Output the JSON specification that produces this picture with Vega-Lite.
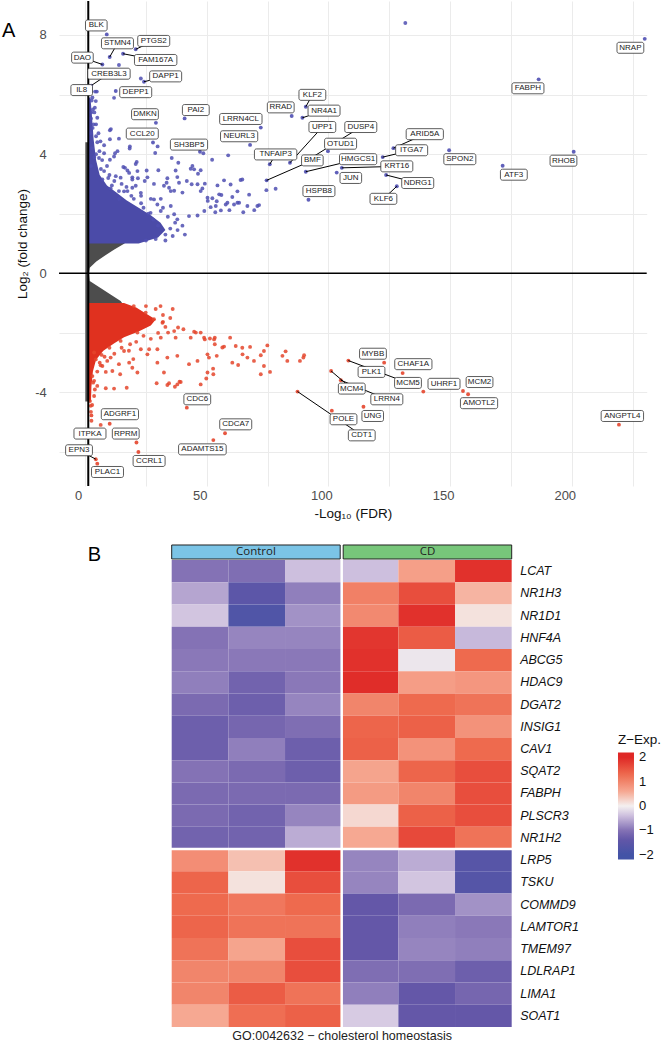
{
"$schema": "https://vega.github.io/schema/vega-lite/v6.json",
"background": "white",
"padding": {"left": 2, "top": 0, "right": 0, "bottom": 0},
"spacing": 23,
"config": {"view": {"stroke": null}, "font": "Liberation Sans", "axis": {"labelFont": "Liberation Sans", "titleFont": "Liberation Sans"}, "legend": {"labelFont": "Liberation Sans", "titleFont": "Liberation Sans"}},
"datasets": {
"gray": [
{"y": -4.3, "x0": 0.1, "x1": 1.6}, {"y": -1.07, "x0": 0.1, "x1": 1.6}, {"y": -1.03, "x0": 0.1, "x1": 15.5}, {"y": -0.93, "x0": 0.1, "x1": 14.6}, {"y": -0.7, "x0": 0.1, "x1": 10.3}, {"y": -0.5, "x0": 0.1, "x1": 6.5}, {"y": -0.26, "x0": 0.1, "x1": 1.9}, {"y": 0, "x0": 0.1, "x1": 1.6}, {"y": 0.19, "x0": 0.1, "x1": 1.9}, {"y": 0.4, "x0": 0.1, "x1": 4.6}, {"y": 0.6, "x0": 0.1, "x1": 8.2}, {"y": 0.8, "x0": 0.1, "x1": 12}, {"y": 1.0, "x0": 0.1, "x1": 16.2}, {"y": 1.04, "x0": 0.1, "x1": 16.5}, {"y": 1.08, "x0": 0.1, "x1": 1.6}, {"y": 4.4, "x0": 0.1, "x1": 1.6}
],
"bcore": [
{"y": 1.0, "x0": 1.3, "x1": 22}, {"y": 1.2, "x0": 1.3, "x1": 30}, {"y": 1.45, "x0": 1.3, "x1": 33}, {"y": 1.7, "x0": 1.3, "x1": 31}, {"y": 1.95, "x0": 1.3, "x1": 27}, {"y": 2.2, "x0": 1.3, "x1": 22}, {"y": 2.45, "x0": 1.3, "x1": 17}, {"y": 2.7, "x0": 1.3, "x1": 13}, {"y": 2.95, "x0": 1.3, "x1": 9}, {"y": 3.3, "x0": 1.3, "x1": 6}, {"y": 3.8, "x0": 1.3, "x1": 4.5}, {"y": 4.5, "x0": 1.3, "x1": 3.5}, {"y": 5.3, "x0": 1.3, "x1": 2.8}, {"y": 5.9, "x0": 1.3, "x1": 2.2}
],
"rcore": [
{"y": -4.3, "x0": 1.3, "x1": 2.4}, {"y": -3.8, "x0": 1.3, "x1": 2.6}, {"y": -3.3, "x0": 1.3, "x1": 3.2}, {"y": -2.9, "x0": 1.3, "x1": 4.5}, {"y": -2.6, "x0": 1.3, "x1": 7.5}, {"y": -2.35, "x0": 1.3, "x1": 12}, {"y": -2.15, "x0": 1.3, "x1": 16}, {"y": -1.95, "x0": 1.3, "x1": 22}, {"y": -1.75, "x0": 1.3, "x1": 27}, {"y": -1.55, "x0": 1.3, "x1": 29}, {"y": -1.35, "x0": 1.3, "x1": 25}, {"y": -1.15, "x0": 1.3, "x1": 21}, {"y": -1.0, "x0": 1.3, "x1": 16}
],
"pts": [
{"x":10.2,"y":4.8},{"x":13.9,"y":4.52},{"x":10.2,"y":4.5},{"x":29.8,"y":4.26},{"x":28.8,"y":4.04},{"x":18.3,"y":4.19},{"x":7.8,"y":4.3},{"x":5.0,"y":4.4},{"x":12.3,"y":4.03},{"x":11.9,"y":3.92},{"x":7.8,"y":4.03},{"x":5.7,"y":3.87},{"x":10.2,"y":3.81},{"x":35.6,"y":3.87},{"x":38.3,"y":3.71},{"x":48.6,"y":4.03},{"x":52.2,"y":3.81},{"x":58.8,"y":3.96},{"x":21.2,"y":3.74},{"x":16.4,"y":3.54},{"x":18.1,"y":3.37},{"x":21.5,"y":3.43},{"x":25.3,"y":3.45},{"x":30.1,"y":3.46},{"x":37.2,"y":3.45},{"x":44.8,"y":3.49},{"x":46.4,"y":3.34},{"x":7.8,"y":3.43},{"x":7.1,"y":3.15},{"x":12.6,"y":3.26},{"x":14.6,"y":3.21},{"x":19.4,"y":3.15},{"x":21.7,"y":3.19},{"x":24.5,"y":3.1},{"x":33.8,"y":3.19},{"x":33.5,"y":3.04},{"x":37.9,"y":3.23},{"x":38.6,"y":3.04},{"x":41.8,"y":3.1},{"x":43.8,"y":2.99},{"x":48.2,"y":2.85},{"x":47.5,"y":2.76},{"x":34.5,"y":2.87},{"x":35.2,"y":2.76},{"x":57.1,"y":3.12},{"x":64.6,"y":3.15},{"x":54.4,"y":2.95},{"x":55.1,"y":2.65},{"x":52.3,"y":2.52},{"x":60.5,"y":2.56},{"x":63.3,"y":2.37},{"x":66.7,"y":2.26},{"x":70.8,"y":2.26},{"x":57.8,"y":2.31},{"x":50.4,"y":2.43},{"x":49.0,"y":2.09},{"x":46.2,"y":1.94},{"x":42.7,"y":1.92},{"x":53.7,"y":2.26},{"x":10.5,"y":2.85},{"x":13.9,"y":2.76},{"x":17.4,"y":2.76},{"x":19.4,"y":2.87},{"x":22.9,"y":2.7},{"x":28.3,"y":2.48},{"x":29.7,"y":2.31},{"x":31.1,"y":2.5},{"x":26.9,"y":2.03},{"x":31.1,"y":2.09},{"x":35.2,"y":2.26},{"x":36.6,"y":1.98},{"x":37.9,"y":1.81},{"x":63.9,"y":3.13},{"x":59.8,"y":2.98},{"x":56.0,"y":2.63},{"x":67.4,"y":2.64},{"x":71.5,"y":2.29},{"x":62.6,"y":2.37},{"x":55.8,"y":2.11},{"x":51.6,"y":2.22},{"x":74.5,"y":2.79},{"x":78.3,"y":2.84},{"x":49.2,"y":3.01},{"x":4.4,"y":5.78},{"x":4.0,"y":5.56},{"x":5.0,"y":5.22},{"x":3.1,"y":4.88},{"x":6.3,"y":4.43},{"x":5.9,"y":4.1},{"x":10.6,"y":4.84},{"x":18.4,"y":4.26},{"x":13.3,"y":4.1},{"x":4.1,"y":6.1},{"x":44.1,"y":3.6},{"x":43.4,"y":3.51},{"x":47.5,"y":3.46},{"x":20.8,"y":3.67},{"x":17.4,"y":3.45},{"x":19.4,"y":3.22},{"x":20.8,"y":2.94},{"x":15.7,"y":3.57},{"x":25.6,"y":3.22},{"x":28.3,"y":3.0},{"x":32.4,"y":2.94},{"x":36.6,"y":2.77},{"x":40.0,"y":2.71},{"x":46.2,"y":2.99},{"x":50.3,"y":2.54},{"x":54.1,"y":2.42},{"x":58.5,"y":2.37},{"x":61.2,"y":2.31},{"x":62.6,"y":2.75},{"x":13.9,"y":6.99},{"x":11.9,"y":5.89},{"x":22.9,"y":6.54},{"x":131.6,"y":8.4},{"x":3.0,"y":5.9},{"x":2.5,"y":5.4},{"x":3.5,"y":5.0},{"x":2.2,"y":4.7},{"x":4.5,"y":4.6},{"x":2.8,"y":4.2},{"x":3.8,"y":3.9},{"x":2.4,"y":3.6},{"x":2.7,"y":5.8},{"x":3.2,"y":5.5},{"x":2.4,"y":5.2},{"x":53.5,"y":2.05},{"x":59.3,"y":2.12},{"x":65.0,"y":2.05},{"x":69.5,"y":2.12},
{"x":24,"y":2.2},{"x":26,"y":2.0},{"x":28,"y":1.8},{"x":30,"y":1.6},{"x":33,"y":1.3},{"x":35,"y":1.5},{"x":34,"y":1.9},{"x":32,"y":2.2},{"x":27,"y":2.5},{"x":23,"y":2.6},{"x":20,"y":2.5},{"x":17,"y":2.9},{"x":15,"y":3.0},{"x":12,"y":3.1},{"x":10,"y":3.3},{"x":9,"y":3.6},{"x":6.5,"y":3.5},{"x":7,"y":3.8},{"x":4.5,"y":4.0},{"x":5.5,"y":4.7},{"x":4.5,"y":5.0},{"x":3.8,"y":5.4},{"x":25,"y":1.1},{"x":29,"y":1.15},{"x":33,"y":1.1},{"x":36,"y":1.25},{"x":38,"y":1.45},{"x":37,"y":1.7},{"x":40,"y":1.6},{"x":41,"y":1.3},{"x":23,"y":2.35},{"x":19,"y":2.6},{"x":16,"y":2.75},{"x":14,"y":2.5},{"x":11,"y":2.95},{"x":9.5,"y":3.2},
{"x":24.9,"y":-1.32},{"x":28.3,"y":-1.54},{"x":32.0,"y":-1.63},{"x":38.2,"y":-1.82},{"x":40.4,"y":-1.88},{"x":34.1,"y":-1.99},{"x":31.1,"y":-2.16},{"x":37.2,"y":-2.16},{"x":43.4,"y":-2.16},{"x":45.5,"y":-1.99},{"x":47.5,"y":-1.99},{"x":48.9,"y":-2.16},{"x":51.3,"y":-2.19},{"x":53.3,"y":-2.16},{"x":53.3,"y":-2.38},{"x":59.6,"y":-2.16},{"x":57.1,"y":-2.46},{"x":61.9,"y":-2.44},{"x":64.6,"y":-2.5},{"x":67.8,"y":-2.47},{"x":74.9,"y":-2.42},{"x":73.5,"y":-2.61},{"x":82.4,"y":-2.62},{"x":81.1,"y":-2.77},{"x":83.1,"y":-2.94},{"x":88.3,"y":-2.94},{"x":90.0,"y":-2.75},{"x":72.2,"y":-2.75},{"x":69.4,"y":-2.94},{"x":66.7,"y":-2.83},{"x":60.5,"y":-3.0},{"x":62.9,"y":-3.08},{"x":73.5,"y":-3.11},{"x":76.0,"y":-3.31},{"x":72.2,"y":-3.39},{"x":54.1,"y":-2.77},{"x":50.3,"y":-2.72},{"x":46.2,"y":-2.94},{"x":42.7,"y":-3.05},{"x":37.9,"y":-2.77},{"x":33.8,"y":-2.83},{"x":29.7,"y":-3.0},{"x":25.6,"y":-2.72},{"x":29.7,"y":-2.55},{"x":26.3,"y":-2.55},{"x":22.9,"y":-2.55},{"x":19.8,"y":-2.88},{"x":18.1,"y":-3.0},{"x":13.9,"y":-3.05},{"x":9.1,"y":-2.94},{"x":7.1,"y":-3.11},{"x":8.5,"y":-3.31},{"x":11.2,"y":-3.28},{"x":14.4,"y":-3.39},{"x":19.4,"y":-3.17},{"x":21.5,"y":-3.33},{"x":32.4,"y":-3.33},{"x":50.3,"y":-3.33},{"x":52.7,"y":-3.39},{"x":49.8,"y":-3.53},{"x":47.5,"y":-3.73},{"x":37.9,"y":-3.73},{"x":36.9,"y":-3.81},{"x":38.8,"y":-3.64},{"x":34.5,"y":-3.69},{"x":29.4,"y":-3.69},{"x":17.1,"y":-3.84},{"x":11.9,"y":-3.87},{"x":8.5,"y":-3.86},{"x":3.7,"y":-3.61},{"x":5.0,"y":-3.78},{"x":3.7,"y":-4.12},{"x":3.0,"y":-3.45},{"x":6.4,"y":-3.09},{"x":4.4,"y":-2.89},{"x":3.7,"y":-2.66},{"x":6.8,"y":-2.74},{"x":10.5,"y":-2.83},{"x":16.0,"y":-2.61},{"x":18.5,"y":-2.38},{"x":14.6,"y":-2.27},{"x":21.5,"y":-1.99},{"x":2.3,"y":-4.45},{"x":33.8,"y":-3.75},{"x":39.3,"y":-3.65},{"x":3.3,"y":-3.67},{"x":2.0,"y":-4.29},{"x":2.9,"y":-4.42},{"x":89.7,"y":-2.83},{"x":64.7,"y":-2.72},{"x":52.6,"y":-3.2},{"x":50.9,"y":-2.83},{"x":56.4,"y":-2.49},{"x":53.0,"y":-2.22},{"x":49.2,"y":-2.22},{"x":44.8,"y":-1.96},{"x":36.6,"y":-1.94},{"x":31.8,"y":-1.66},{"x":2.4,"y":-4.65},{"x":2.6,"y":-4.95},{"x":6.4,"y":-5.09},
{"x":25,"y":-1.1},{"x":29,"y":-1.2},{"x":32,"y":-1.4},{"x":33,"y":-1.8},{"x":30,"y":-2.0},{"x":27,"y":-2.2},{"x":24,"y":-2.1},{"x":21,"y":-2.3},{"x":18,"y":-2.6},{"x":15,"y":-2.5},{"x":12,"y":-2.7},{"x":10,"y":-2.5},{"x":8,"y":-2.8},{"x":6,"y":-3.0},{"x":5,"y":-3.3},{"x":4,"y":-3.9},{"x":35,"y":-1.5},{"x":36,"y":-1.2},{"x":20,"y":-1.1},{"x":31,"y":-1.1}
],
"lab": [
{"gene":"BLK","x":8.9,"y":8.02,"lx":4.6,"ly":8.32,"line":false},
{"gene":"STMN4","x":10.1,"y":7.26,"lx":13.3,"ly":7.72,"line":true},
{"gene":"PTGS2","x":20.8,"y":7.52,"lx":28.2,"ly":7.8,"line":true},
{"gene":"FAM167A","x":15.6,"y":7.37,"lx":29.0,"ly":7.16,"line":true},
{"gene":"DAO","x":7.1,"y":7.01,"lx":-1.1,"ly":7.24,"line":true},
{"gene":"CREB3L3","x":2.5,"y":6.3,"lx":9.8,"ly":6.7,"line":true},
{"gene":"IL8","x":4.8,"y":6.1,"lx":-1.4,"ly":6.15,"line":false},
{"gene":"DAPP1","x":24.2,"y":6.43,"lx":33.1,"ly":6.61,"line":true},
{"gene":"DEPP1","x":12.6,"y":6.12,"lx":20.8,"ly":6.08,"line":false},
{"gene":"DMKN","x":29.1,"y":5.05,"lx":24.6,"ly":5.34,"line":false},
{"gene":"PAI2","x":40.9,"y":5.2,"lx":45.5,"ly":5.48,"line":false},
{"gene":"LRRN4CL","x":72.2,"y":4.89,"lx":64.0,"ly":5.18,"line":false},
{"gene":"NEURL3","x":67.8,"y":4.31,"lx":63.3,"ly":4.6,"line":false},
{"gene":"CCL20","x":27.9,"y":4.39,"lx":23.5,"ly":4.69,"line":false},
{"gene":"SH3BP5","x":47.2,"y":4.08,"lx":42.7,"ly":4.32,"line":false},
{"gene":"RRAD","x":84.9,"y":5.28,"lx":80.4,"ly":5.57,"line":false},
{"gene":"KLF2","x":90.7,"y":5.59,"lx":93.4,"ly":5.99,"line":true},
{"gene":"NR4A1","x":89.3,"y":5.22,"lx":98.2,"ly":5.46,"line":true},
{"gene":"UPP1","x":84.2,"y":3.71,"lx":97.5,"ly":4.91,"line":true},
{"gene":"DUSP4","x":90.7,"y":3.76,"lx":113.3,"ly":4.91,"line":true},
{"gene":"TNFAIP3","x":75.9,"y":3.66,"lx":78.3,"ly":3.99,"line":true},
{"gene":"BMF","x":74.6,"y":3.12,"lx":93.4,"ly":3.79,"line":true},
{"gene":"OTUD1","x":99.8,"y":4.1,"lx":105.0,"ly":4.35,"line":false},
{"gene":"HMGCS1","x":90.7,"y":3.41,"lx":112.2,"ly":3.83,"line":true},
{"gene":"JUN","x":103.4,"y":3.38,"lx":109.2,"ly":3.2,"line":false},
{"gene":"KRT16","x":105.5,"y":3.54,"lx":128.1,"ly":3.59,"line":true},
{"gene":"HSPB8","x":91.8,"y":2.47,"lx":96.1,"ly":2.76,"line":false},
{"gene":"ARID5A","x":126.7,"y":4.2,"lx":139.6,"ly":4.67,"line":true},
{"gene":"ITGA7","x":122.3,"y":3.9,"lx":134.2,"ly":4.13,"line":true},
{"gene":"NDRG1","x":123.7,"y":3.3,"lx":136.7,"ly":3.03,"line":true},
{"gene":"KLF6","x":128.1,"y":2.92,"lx":122.6,"ly":2.5,"line":true},
{"gene":"SPON2","x":149.6,"y":4.13,"lx":154.0,"ly":3.83,"line":false},
{"gene":"ATF3","x":171.6,"y":3.61,"lx":176.2,"ly":3.31,"line":false},
{"gene":"RHOB","x":200.8,"y":4.08,"lx":196.6,"ly":3.78,"line":false},
{"gene":"FABPH","x":186.4,"y":6.51,"lx":182.0,"ly":6.21,"line":false},
{"gene":"NRAP","x":230.0,"y":7.87,"lx":224.1,"ly":7.57,"line":false},
{"gene":"MYBB","x":122.9,"y":-3.0,"lx":118.3,"ly":-2.7,"line":false},
{"gene":"PLK1","x":115.5,"y":-3.25,"lx":117.7,"ly":-3.31,"line":false},
{"gene":"CHAF1A","x":130.5,"y":-3.35,"lx":134.9,"ly":-3.05,"line":false},
{"gene":"MCM5","x":108.2,"y":-2.93,"lx":132.7,"ly":-3.68,"line":true},
{"gene":"MCM4","x":101.1,"y":-3.28,"lx":109.6,"ly":-3.87,"line":true},
{"gene":"LRRN4","x":105.1,"y":-3.59,"lx":124.0,"ly":-4.23,"line":true},
{"gene":"UHRF1","x":139.0,"y":-3.97,"lx":147.5,"ly":-3.71,"line":false},
{"gene":"MCM2","x":155.3,"y":-3.95,"lx":162.1,"ly":-3.65,"line":false},
{"gene":"AMOTL2","x":157.4,"y":-4.06,"lx":161.9,"ly":-4.36,"line":false},
{"gene":"UNG","x":114.4,"y":-4.48,"lx":118.2,"ly":-4.79,"line":false},
{"gene":"POLE","x":101.4,"y":-4.61,"lx":106.2,"ly":-4.9,"line":false},
{"gene":"CDT1","x":87.3,"y":-3.97,"lx":113.7,"ly":-5.44,"line":true},
{"gene":"ANGPTL4","x":219.4,"y":-5.08,"lx":220.8,"ly":-4.79,"line":false},
{"gene":"CDC6","x":41.8,"y":-4.51,"lx":46.1,"ly":-4.23,"line":false},
{"gene":"ADGRF1","x":10.1,"y":-5.05,"lx":14.3,"ly":-4.73,"line":false},
{"gene":"ITPKA","x":2.6,"y":-4.77,"lx":2.0,"ly":-5.38,"line":false},
{"gene":"RPRM","x":21.1,"y":-5.68,"lx":16.7,"ly":-5.38,"line":false},
{"gene":"EPN3","x":4.4,"y":-6.24,"lx":-2.5,"ly":-5.94,"line":true},
{"gene":"PLAC1","x":5.0,"y":-6.39,"lx":9.2,"ly":-6.67,"line":false},
{"gene":"CCRL1","x":21.9,"y":-6.0,"lx":26.3,"ly":-6.3,"line":false},
{"gene":"CDCA7","x":57.5,"y":-5.37,"lx":61.9,"ly":-5.07,"line":false},
{"gene":"ADAMTS15","x":52.7,"y":-5.6,"lx":48.2,"ly":-5.91,"line":false}
],
"hm": [
{"gene":"LCAT","Control 1":-1.0,"Control 2":-1.05,"Control 3":-0.4,"CD 1":-0.4,"CD 2":0.7,"CD 3":1.9},
{"gene":"NR1H3","Control 1":-0.6,"Control 2":-1.5,"Control 3":-0.9,"CD 1":1.05,"CD 2":1.6,"CD 3":0.5},
{"gene":"NR1D1","Control 1":-0.35,"Control 2":-1.75,"Control 3":-0.75,"CD 1":0.95,"CD 2":1.9,"CD 3":0.12},
{"gene":"HNF4A","Control 1":-1.0,"Control 2":-0.85,"Control 3":-0.85,"CD 1":1.85,"CD 2":1.45,"CD 3":-0.45},
{"gene":"ABCG5","Control 1":-0.95,"Control 2":-0.95,"Control 3":-0.95,"CD 1":1.9,"CD 2":-0.08,"CD 3":1.3},
{"gene":"HDAC9","Control 1":-0.9,"Control 2":-1.2,"Control 3":-0.95,"CD 1":1.95,"CD 2":0.72,"CD 3":0.8},
{"gene":"DGAT2","Control 1":-1.1,"Control 2":-1.25,"Control 3":-0.85,"CD 1":1.0,"CD 2":1.3,"CD 3":1.2},
{"gene":"INSIG1","Control 1":-1.25,"Control 2":-1.15,"Control 3":-1.05,"CD 1":1.35,"CD 2":1.4,"CD 3":0.85},
{"gene":"CAV1","Control 1":-1.25,"Control 2":-0.9,"Control 3":-1.25,"CD 1":1.4,"CD 2":0.85,"CD 3":1.3},
{"gene":"SQAT2","Control 1":-1.0,"Control 2":-1.1,"Control 3":-1.25,"CD 1":0.65,"CD 2":1.35,"CD 3":1.6},
{"gene":"FABPH","Control 1":-1.1,"Control 2":-1.1,"Control 3":-1.1,"CD 1":0.75,"CD 2":1.0,"CD 3":1.6},
{"gene":"PLSCR3","Control 1":-1.1,"Control 2":-1.2,"Control 3":-0.85,"CD 1":0.2,"CD 2":1.4,"CD 3":1.6},
{"gene":"NR1H2","Control 1":-1.2,"Control 2":-1.2,"Control 3":-0.55,"CD 1":0.6,"CD 2":1.65,"CD 3":1.2},
{"gene":"LRP5","Control 1":0.9,"Control 2":0.4,"Control 3":1.9,"CD 1":-0.85,"CD 2":-0.55,"CD 3":-1.6},
{"gene":"TSKU","Control 1":1.35,"Control 2":0.12,"Control 3":1.6,"CD 1":-0.85,"CD 2":-0.35,"CD 3":-1.65},
{"gene":"COMMD9","Control 1":1.3,"Control 2":1.15,"Control 3":1.3,"CD 1":-1.35,"CD 2":-1.1,"CD 3":-0.75},
{"gene":"LAMTOR1","Control 1":1.35,"Control 2":1.2,"Control 3":1.2,"CD 1":-1.35,"CD 2":-0.9,"CD 3":-0.95},
{"gene":"TMEM97","Control 1":1.2,"Control 2":0.65,"Control 3":1.6,"CD 1":-1.35,"CD 2":-0.85,"CD 3":-0.9},
{"gene":"LDLRAP1","Control 1":1.0,"Control 2":1.0,"Control 3":1.6,"CD 1":-1.05,"CD 2":-1.05,"CD 3":-1.25},
{"gene":"LIMA1","Control 1":1.0,"Control 2":1.45,"Control 3":1.2,"CD 1":-0.9,"CD 2":-1.35,"CD 3":-1.15},
{"gene":"SOAT1","Control 1":0.6,"Control 2":1.25,"Control 3":1.4,"CD 1":-0.3,"CD 2":-1.35,"CD 3":-1.35}
]
},
"vconcat": [
{
"width": 587.7, "height": 485,
"title": {"text": "A", "anchor": "start", "frame": "group", "fontSize": 20, "fontWeight": "normal", "font": "Liberation Sans", "color": "#000", "offset": 0, "baseline": "alphabetic", "dx": -57, "dy": 57},
"layer": [
{"data": {"name": "gray"}, "mark": {"type": "area", "orient": "horizontal", "color": "#4d4d4d"},
 "encoding": {
  "y": {"field": "y", "type": "quantitative", "scale": {"domain": [-7.14, 9.14], "nice": false, "zero": false},
        "axis": {"values": [-6,-4,-2,0,2,4,6,8], "labelExpr": "datum.value % 4 === 0 ? replace(datum.label, '−', '-') : ''", "grid": true, "gridColor": "#ebebeb", "gridWidth": 1, "domain": false, "ticks": false, "labelFontSize": 13, "labelColor": "#4d4d4d", "labelPadding": 12.8, "labelOverlap": false, "labelFlush": false, "titleFontSize": 13.5, "titleFontWeight": "normal", "titleColor": "#111", "titlePadding": 5.5},
        "title": "Log₂ (fold change)"},
  "x": {"field": "x0", "type": "quantitative", "scale": {"domain": [-10.73, 230.8], "nice": false, "zero": false},
        "axis": {"values": [0,25,50,75,100,125,150,175,200,225], "labelExpr": "datum.value % 50 === 0 ? datum.label : ''", "grid": true, "gridColor": "#ebebeb", "gridWidth": 1, "domain": false, "ticks": false, "labelFontSize": 13, "labelColor": "#4d4d4d", "labelPadding": 3, "labelOffset": -7, "labelOverlap": false, "labelFlush": false, "titleFontSize": 13.5, "titleFontWeight": "normal", "titleColor": "#111", "titlePadding": 4},
        "title": "-Log₁₀ (FDR)"},
  "x2": {"field": "x1"}
 }},
{"data": {"name": "bcore"}, "mark": {"type": "area", "orient": "horizontal", "color": "#4b4ba8"},
 "encoding": {"y": {"field": "y", "type": "quantitative"}, "x": {"field": "x0", "type": "quantitative"}, "x2": {"field": "x1"}}},
{"data": {"name": "rcore"}, "mark": {"type": "area", "orient": "horizontal", "color": "#e0311f"},
 "encoding": {"y": {"field": "y", "type": "quantitative"}, "x": {"field": "x0", "type": "quantitative"}, "x2": {"field": "x1"}}},
{"data": {"name": "pts"}, "mark": {"type": "circle", "size": 15, "opacity": 0.85},
 "encoding": {"x": {"field": "x", "type": "quantitative"}, "y": {"field": "y", "type": "quantitative"},
  "color": {"condition": {"test": "datum.y > 0", "value": "#4f4fb2"}, "value": "#e4452c"}}},
{"data": {"name": "lab"}, "mark": {"type": "circle", "size": 15, "opacity": 0.9},
 "encoding": {"x": {"field": "x", "type": "quantitative"}, "y": {"field": "y", "type": "quantitative"},
  "color": {"condition": {"test": "datum.y > 0", "value": "#4f4fb2"}, "value": "#e4452c"}}},
{"data": {"values": [{"v": 0}]}, "mark": {"type": "rule", "color": "#000", "strokeWidth": 1.4}, "encoding": {"y": {"field": "v", "type": "quantitative"}}},
{"data": {"values": [{"v": 1.3}]}, "mark": {"type": "rule", "color": "#000", "strokeWidth": 2}, "encoding": {"x": {"field": "v", "type": "quantitative"}}},
{"data": {"name": "lab"}, "transform": [{"filter": "datum.line"}], "mark": {"type": "rule", "color": "#000", "strokeWidth": 1},
 "encoding": {"x": {"field": "x", "type": "quantitative"}, "y": {"field": "y", "type": "quantitative"}, "x2": {"field": "lx"}, "y2": {"field": "ly"}}},
{"data": {"name": "lab"}, "mark": {"type": "rect", "fill": "white", "stroke": "#333", "strokeWidth": 0.8, "cornerRadius": 2, "xOffset": {"expr": "-length(datum.gene)*2.6-3"}, "x2Offset": {"expr": "length(datum.gene)*2.6+3"}, "yOffset": -5.5, "y2Offset": 5.5},
 "encoding": {"x": {"field": "lx", "type": "quantitative"}, "x2": {"field": "lx"}, "y": {"field": "ly", "type": "quantitative"}, "y2": {"field": "ly"}}},
{"data": {"name": "lab"}, "mark": {"type": "text", "fontSize": 8, "font": "Liberation Sans", "color": "#1a1a1a", "align": "center", "baseline": "middle"},
 "encoding": {"x": {"field": "lx", "type": "quantitative"}, "y": {"field": "ly", "type": "quantitative"}, "text": {"field": "gene"}}}
]
},
{
"width": 587.7, "height": 484,
"title": {"text": "B", "anchor": "start", "frame": "group", "fontSize": 20, "fontWeight": "normal", "font": "Liberation Sans", "color": "#000", "offset": 0, "baseline": "alphabetic", "dx": 28.7, "dy": 37},
"layer": [
{"layer": [
 {"data": {"name": "hm"}, "transform": [{"fold": ["Control 1","Control 2","Control 3","CD 1","CD 2","CD 3"], "as": ["sample","z"]}],
  "mark": {"type": "rect"},
  "encoding": {
   "x": {"field": "sample", "type": "nominal", "sort": null, "scale": {"domain": ["Control 1","Control 2","Control 3","CD 1","CD 2","CD 3"], "range": [112.7, 452.7], "paddingInner": 0, "paddingOuter": 0},
         "axis": {"labels": false, "ticks": false, "domain": false, "title": "GO:0042632 − cholesterol homeostasis", "titleFontSize": 12.5, "titleFontWeight": "normal", "titleColor": "#222", "titlePadding": 1}},
   "y": {"field": "gene", "type": "nominal", "sort": null, "scale": {"domain": ["LCAT","NR1H3","NR1D1","HNF4A","ABCG5","HDAC9","DGAT2","INSIG1","CAV1","SQAT2","FABPH","PLSCR3","NR1H2","LRP5","TSKU","COMMD9","LAMTOR1","TMEM97","LDLRAP1","LIMA1","SOAT1"], "range": [15, 482], "paddingInner": 0, "paddingOuter": 0},
         "axis": {"orient": "right", "offset": -135, "ticks": false, "domain": false, "labelPadding": 8, "labelFontSize": 12.5, "labelFontStyle": "italic", "labelColor": "#111", "title": null}},
   "color": {"field": "z", "type": "quantitative",
     "scale": {"domain": [-2.2, -2, -1.35, -1, -0.4, 0, 0.6, 1.3, 2, 2.2], "range": ["#4353a6", "#4353a6", "#6457a8", "#8472b5", "#cdbfde", "#f4f0f0", "#f6a892", "#ee6a4e", "#df2826", "#df2826"], "interpolate": "rgb", "clamp": true},
     "legend": {"orient": "none", "legendX": 559, "legendY": 732, "title": "Z−Exp.", "titleFontSize": 13.5, "titleFontWeight": "normal", "titleColor": "#111", "titlePadding": 6, "gradientLength": 107, "gradientThickness": 16, "values": [-2, -1, 0, 1, 2], "labelFontSize": 13, "labelColor": "#111", "labelOffset": 5, "direction": "vertical", "gradientStrokeWidth": 0, "zindex": 1}}
  }},
 {"data": {"values": [{"s": "CD 1"}]}, "mark": {"type": "rule", "color": "white", "strokeWidth": 2.5},
  "encoding": {"x": {"field": "s", "type": "nominal", "bandPosition": 0}}},
 {"data": {"values": [{"g": "LRP5"}]}, "mark": {"type": "rule", "color": "white", "strokeWidth": 2.5},
  "encoding": {"y": {"field": "g", "type": "nominal", "bandPosition": 0}}}
]},
{"data": {"values": [{"grp": "Control", "t": "a"}, {"grp": "CD", "t": "a"}]},
 "layer": [
  {"mark": {"type": "rect", "stroke": "#222", "strokeWidth": 1},
   "encoding": {
    "x": {"field": "grp", "type": "nominal", "sort": null, "scale": {"domain": ["Control", "CD"], "range": [112.7, 452.7], "paddingInner": 0.0175, "paddingOuter": 0}, "axis": null},
    "y": {"field": "t", "type": "nominal", "scale": {"range": [0, 14], "paddingInner": 0, "paddingOuter": 0}, "axis": null},
    "fill": {"condition": {"test": "datum.grp === 'Control'", "value": "#7bc4e6"}, "value": "#77c67a"}}},
  {"mark": {"type": "text", "fontSize": 11.5, "font": "Open Sans", "color": "#222"},
   "encoding": {
    "x": {"field": "grp", "type": "nominal", "sort": null},
    "y": {"field": "t", "type": "nominal"},
    "text": {"field": "grp"}}}
 ]}
],
"resolve": {"scale": {"x": "independent", "y": "independent"}, "axis": {"x": "independent", "y": "independent"}}
}
]
}
